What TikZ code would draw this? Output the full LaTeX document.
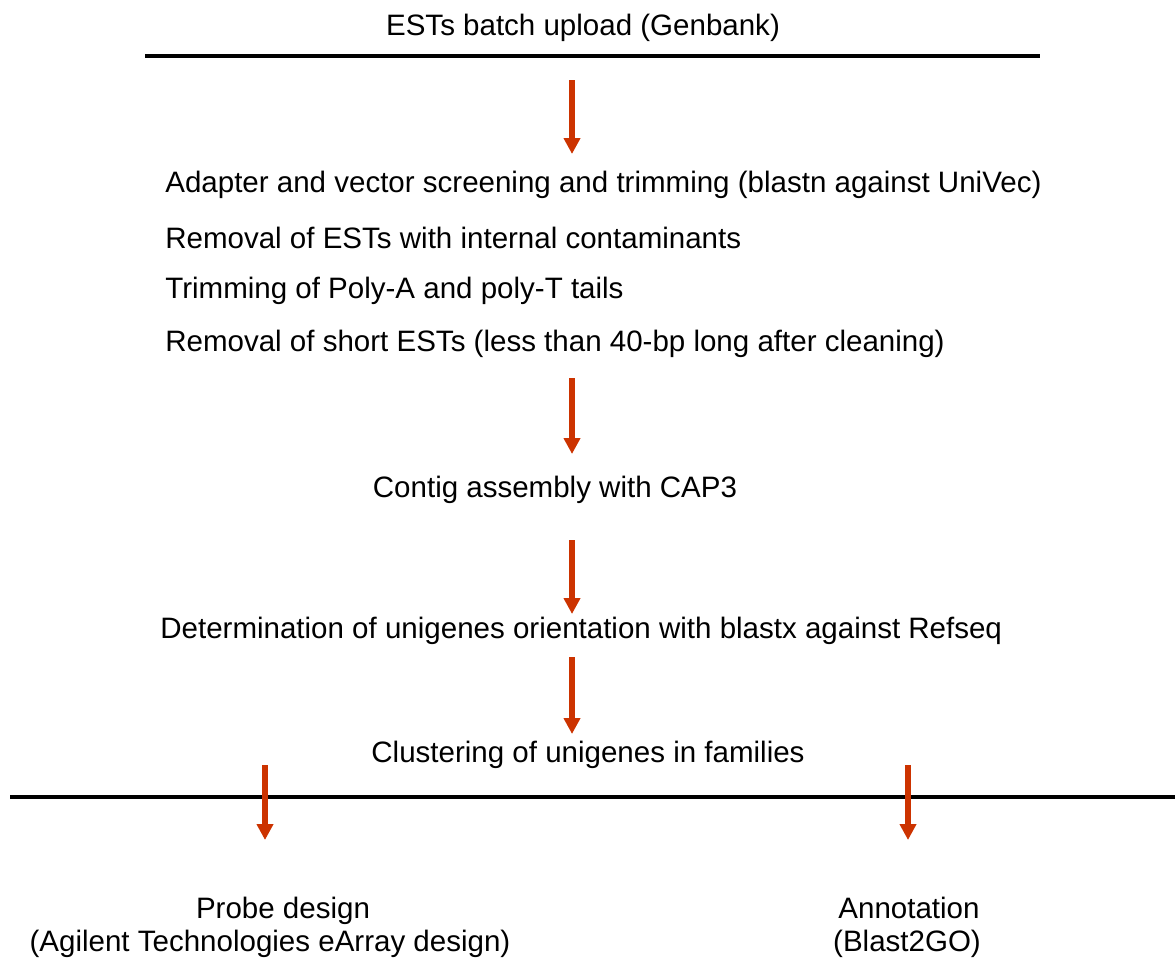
\documentclass[tikz,border=0pt]{standalone}
\usepackage{fontspec}
\setmainfont{Liberation Sans}
\usetikzlibrary{arrows.meta}
\definecolor{arrowred}{RGB}{204,51,0}
\tikzset{
  steptext/.style={inner sep=0pt, font=\fontsize{16.8}{18.8}\selectfont},
  rule/.style={line width=2.6pt, black},
  flow/.style={line width=3.8pt, arrowred, -{Triangle[width=9pt,length=9pt]}}
}
\begin{document}
\begin{tikzpicture}[x=0.02cm,y=-0.02cm]
        \useasboundingbox (0,0) rectangle (1175,960);
        % Define the nodes for the pipeline
        \node[steptext]             (upload)   at (583,28)  {ESTs batch upload (Genbank)};
        \node[steptext,anchor=west] (adapter)  at (165,185) {Adapter and vector screening and trimming (blastn against UniVec)};
        \node[steptext,anchor=west] (contam)   at (165,238) {Removal of ESTs with internal contaminants};
        \node[steptext,anchor=west] (polya)    at (165,291) {Trimming of Poly-A and poly-T tails};
        \node[steptext,anchor=west] (short)    at (165,344) {Removal of short ESTs (less than 40-bp long after cleaning)};
        \node[steptext]             (contig)   at (555,490) {Contig assembly with CAP3};
        \node[steptext,anchor=west] (orient)   at (160,631) {Determination of unigenes orientation with blastx against Refseq};
        \node[steptext]             (cluster)  at (588,755) {Clustering of unigenes in families};
        \node[steptext,anchor=base] (probe)    at (283,918) {Probe design};
        \node[steptext,anchor=base] (agilent)  at (270,951) {(Agilent Technologies eArray design)};
        \node[steptext,anchor=base] (annot)    at (909,918) {Annotation};
        \node[steptext,anchor=base] (blast2go) at (907,951) {(Blast2GO)};
        % Define the coordinates for rules and arrows
        \coordinate (topL) at (145,56);   \coordinate (topR) at (1040,56);
        \coordinate (botL) at (10,797);   \coordinate (botR) at (1175,797);
        \coordinate (a1s) at (572,80);    \coordinate (a1e) at (572,154);
        \coordinate (a2s) at (572,378);   \coordinate (a2e) at (572,454);
        \coordinate (a3s) at (572,540);   \coordinate (a3e) at (572,614);
        \coordinate (a4s) at (572,657);   \coordinate (a4e) at (572,734);
        \coordinate (a5s) at (265,765);   \coordinate (a5e) at (265,840);
        \coordinate (a6s) at (908,765);   \coordinate (a6e) at (908,840);
        % Connect the nodes
        \draw[rule] (topL) -- (topR);
        \draw[rule] (botL) -- (botR);
        \draw[flow] (a1s) -- (a1e);
        \draw[flow] (a2s) -- (a2e);
        \draw[flow] (a3s) -- (a3e);
        \draw[flow] (a4s) -- (a4e);
        \draw[flow] (a5s) -- (a5e);
        \draw[flow] (a6s) -- (a6e);
    \end{tikzpicture}
\end{document}
